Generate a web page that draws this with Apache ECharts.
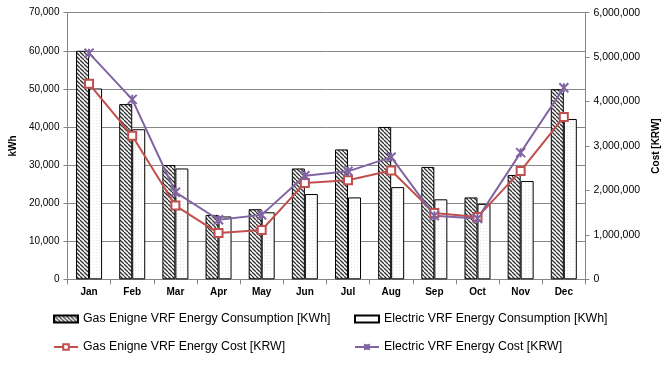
<!DOCTYPE html>
<html><head><meta charset="utf-8">
<script src="https://cdn.jsdelivr.net/npm/echarts@6/dist/echarts.min.js"></script>
<style>html,body{margin:0;padding:0;background:#fff}#c{width:669px;height:366px}</style>
</head><body><div id="c"></div>
<script>
const months = ['Jan','Feb','Mar','Apr','May','Jun','Jul','Aug','Sep','Oct','Nov','Dec'];
const gasConsumption = [60000,46000,30000,16900,18400,29100,34100,40000,29500,21500,27400,49900];
const elecConsumption = [50100,39400,29100,16500,17600,22400,21500,24200,21000,19800,25800,42100];
const gasCost = [4400000,3230000,1660000,1040000,1110000,2170000,2230000,2450000,1490000,1400000,2440000,3650000];
const elecCost = [5090000,4050000,1960000,1340000,1450000,2330000,2430000,2750000,1430000,1370000,2850000,4310000];
const leftTicks = {min:0,max:70000,interval:10000};
const rightTicks = {min:0,max:6000000,interval:1000000};
const names = ['Gas Enigne VRF Energy Consumption [KWh]','Electric VRF Energy Consumption [KWh]','Gas Enigne VRF Energy Cost [KRW]','Electric VRF Energy Cost [KRW]'];

function hatch(){
  const c=document.createElement('canvas');c.width=4;c.height=4;
  const g=c.getContext('2d');g.fillStyle='#fff';g.fillRect(0,0,4,4);
  g.strokeStyle='#333';g.lineWidth=1.3;
  for(let k=-4;k<=8;k+=4){g.beginPath();g.moveTo(k,0);g.lineTo(k+4,4);g.stroke();}
  return {image:c,repeat:'repeat'};
}
function dots(){
  const c=document.createElement('canvas');c.width=3;c.height=3;
  const g=c.getContext('2d');g.fillStyle='#fff';g.fillRect(0,0,3,3);
  g.fillStyle='#e6e6e6';g.fillRect(0,0,1,1);
  return {image:c,repeat:'repeat'};
}
const font='Liberation Sans';
const chart=echarts.init(document.getElementById('c'),null,{renderer:'canvas'});
const legBase={itemWidth:24,itemHeight:7,textStyle:{fontFamily:font,fontSize:12.3,color:'#000'},padding:0,itemGap:0};
chart.setOption({
  animation:false,
  grid:{left:67,right:82,top:12.7,bottom:86.7},
  legend:[
    Object.assign({},legBase,{data:[{name:names[0],icon:'rect'}],left:53,top:313}),
    Object.assign({},legBase,{data:[{name:names[1],icon:'rect'}],left:354,top:313}),
    Object.assign({},legBase,{data:[names[2]],left:53,top:341}),
    Object.assign({},legBase,{data:[names[3]],left:354,top:341})
  ],
  xAxis:{type:'category',data:months,
    axisLine:{lineStyle:{color:'#868686'}},
    axisTick:{show:true,length:5,lineStyle:{color:'#868686'}},
    axisLabel:{fontFamily:font,fontSize:10,fontWeight:'bold',color:'#000',margin:8}},
  yAxis:[
    {type:'value',min:leftTicks.min,max:leftTicks.max,interval:leftTicks.interval,
     name:'kWh',nameLocation:'middle',nameGap:46,nameTextStyle:{fontFamily:font,fontSize:10,fontWeight:'bold',color:'#000'},
     axisLine:{show:true,lineStyle:{color:'#868686'}},axisTick:{show:true,length:4,lineStyle:{color:'#868686'}},
     splitLine:{lineStyle:{color:'#868686'}},
     axisLabel:{fontFamily:font,fontSize:10,color:'#000',margin:8,formatter:v=>v.toLocaleString('en-US')}},
    {type:'value',min:rightTicks.min,max:rightTicks.max,interval:rightTicks.interval,position:'right',
     name:'Cost [KRW]',nameLocation:'middle',nameGap:62,nameTextStyle:{fontFamily:font,fontSize:10,fontWeight:'bold',color:'#000'},
     axisLine:{show:true,lineStyle:{color:'#868686'}},axisTick:{show:true,length:4,lineStyle:{color:'#868686'}},
     splitLine:{show:false},
     axisLabel:{fontFamily:font,fontSize:10.5,color:'#000',margin:8,formatter:v=>v.toLocaleString('en-US')}}
  ],
  series:[
    {name:names[0],type:'bar',data:gasConsumption,barWidth:13,barGap:'0%',
     itemStyle:{color:hatch(),borderColor:'#000',borderWidth:1}},
    {name:names[1],type:'bar',data:elecConsumption,barWidth:13,barGap:'0%',
     itemStyle:{color:dots(),borderColor:'#000',borderWidth:1}},
    {name:names[2],type:'line',yAxisIndex:1,data:gasCost,symbol:'rect',symbolSize:8,
     lineStyle:{color:'#C0504D',width:2},itemStyle:{color:'#fff',borderColor:'#C0504D',borderWidth:2}},
    {name:names[3],type:'line',yAxisIndex:1,data:elecCost,symbol:'path://M0,0L10,10M10,0L0,10M5,0L5,10',symbolSize:9,
     lineStyle:{color:'#8064A2',width:2},itemStyle:{color:'#8064A2',borderColor:'#8064A2',borderWidth:2}}
  ]
});
</script></body></html>
